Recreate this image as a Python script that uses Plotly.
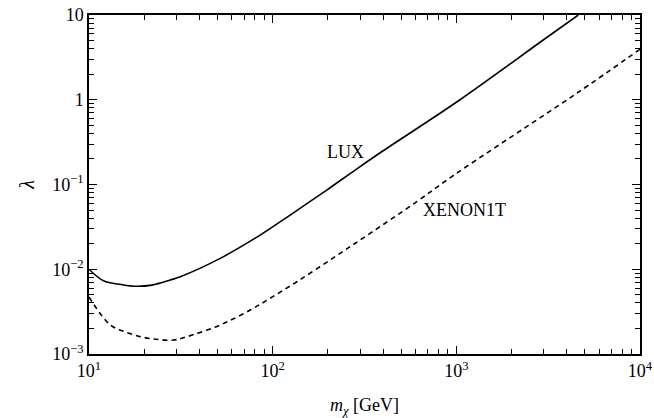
import plotly.graph_objects as go

# LUX limit (solid)
lux_m = [10, 12, 15, 18, 22, 27.7, 31.4, 51.8, 85.5, 124.5, 197, 281, 385, 1047, 2972, 4613]
lux_l = [0.0100, 0.0073, 0.0066, 0.0063, 0.0065, 0.00746, 0.00816, 0.01345, 0.0253,
         0.0436, 0.086, 0.148, 0.237, 1.0, 5.07, 10.0]

# XENON1T projection (dashed)
xe_m = [10, 13.06, 16, 19.8, 24, 28.8, 34.1, 51.8, 75.5, 96.8, 135.5, 219, 339, 609, 944,
        1800, 4520, 10000]
xe_l = [0.0047, 0.0022, 0.0018, 0.00157, 0.00148, 0.00146, 0.0016, 0.0022, 0.0033,
        0.00454, 0.00713, 0.0141, 0.0265, 0.0627, 0.124, 0.316, 1.19, 3.94]

x_tickvals = [10, 100, 1000, 10000]
x_ticktext = ["10<sup>1</sup>", "10<sup>2</sup>", "10<sup>3</sup>", "10<sup>4</sup>"]
y_tickvals = [0.001, 0.01, 0.1, 1, 10]
y_ticktext = ["10<sup>−3</sup>", "10<sup>−2</sup>", "10<sup>−1</sup>", "1", "10"]

x_minor = [d * 10 ** k for k in range(1, 4) for d in range(2, 10)]
y_minor = [d * 10.0 ** k for k in range(-3, 1) for d in range(2, 10)]

FONT = "Liberation Serif"

fig = go.Figure()
fig.add_trace(go.Scatter(x=lux_m, y=lux_l, mode="lines",
                         line=dict(color="black", width=1.6, shape="spline", smoothing=1.0),
                         showlegend=False))
fig.add_trace(go.Scatter(x=xe_m, y=xe_l, mode="lines",
                         line=dict(color="black", width=1.6, dash="5px,4px",
                                   shape="spline", smoothing=1.0),
                         showlegend=False))

fig.add_annotation(x=2.394, y=-0.617, xref="x", yref="y", text="LUX", showarrow=False,
                   font=dict(family=FONT, size=18, color="black"))
fig.add_annotation(x=3.047, y=-1.30, xref="x", yref="y", text="XENON1T", showarrow=False,
                   font=dict(family=FONT, size=18, color="black"))

axis_common = dict(
    type="log", showline=True, linecolor="black", linewidth=1.5, mirror="ticks",
    ticks="inside", ticklen=8, tickwidth=1.2, tickcolor="black", showgrid=False,
    zeroline=False, automargin=False,
    tickfont=dict(family=FONT, size=18, color="black"),
)

fig.update_xaxes(range=[1, 4], tickvals=x_tickvals, ticktext=x_ticktext,
                 minor=dict(tickvals=x_minor, ticks="inside", ticklen=5, tickwidth=1,
                            tickcolor="black", showgrid=False),
                 title=dict(text="<i>m</i><sub><i>χ</i></sub> [GeV]",
                            font=dict(family=FONT, size=18, color="black"), standoff=18),
                 **axis_common)
fig.update_yaxes(range=[-3, 1], tickvals=y_tickvals, ticktext=y_ticktext,
                 minor=dict(tickvals=y_minor, ticks="inside", ticklen=5, tickwidth=1,
                            tickcolor="black", showgrid=False),
                 title=dict(text="<i>λ</i>", font=dict(family=FONT, size=20, color="black"),
                            standoff=12),
                 **axis_common)

fig.update_layout(width=654, height=418, margin=dict(l=89, r=14, t=15, b=64),
                  plot_bgcolor="white", paper_bgcolor="white")

fig.write_html("out.html")
